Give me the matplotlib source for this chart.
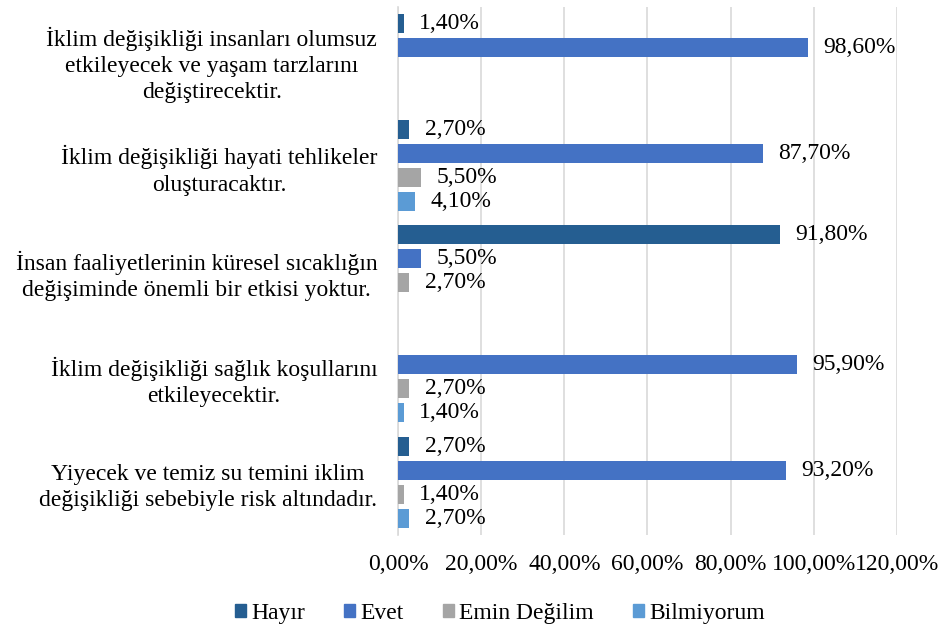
import matplotlib.pyplot as plt
from matplotlib.patches import Patch

# Data
categories = [
    'İklim değişikliği insanları olumsuz\netkileyecek ve yaşam tarzlarını\ndeğiştirecektir.',
    'İklim değişikliği hayati tehlikeler\noluşturacaktır.',
    'İnsan faaliyetlerinin küresel sıcaklığın\ndeğişiminde önemli bir etkisi yoktur.',
    'İklim değişikliği sağlık koşullarını\netkileyecektir.',
    'Yiyecek ve temiz su temini iklim\ndeğişikliği sebebiyle risk altındadır.',
]
series_names = ['Hayır', 'Evet', 'Emin Değilim', 'Bilmiyorum']
hayir = [1.4, 2.7, 91.8, None, 2.7]
evet = [98.6, 87.7, 5.5, 95.9, 93.2]
emin = [None, 5.5, 2.7, 2.7, 1.4]
bilmiyorum = [None, 4.1, None, 1.4, 2.7]
xticks = [0, 20, 40, 60, 80, 100, 120]

colors = ['#255E91', '#4472C4', '#A5A5A5', '#5B9BD5']
plt.rcParams['font.family'] = ['Liberation Serif', 'DejaVu Serif']
fs = 17


def fmt(v):
    return ('%.2f%%' % v).replace('.', ',')


fig = plt.figure(figsize=(9.4, 6.33), dpi=100)
ax = fig.add_axes([0.4234, 0.155, 0.5308, 0.834])

slot = 0.2275
height = 0.18
for j, vals in enumerate([hayir, evet, emin, bilmiyorum]):
    for i, v in enumerate(vals):
        if v is None:
            continue
        y = i + (j - 1.5) * slot
        ax.barh(y, v, height=height, color=colors[j], zorder=3)
        ax.annotate(fmt(v), (v, y), xytext=(11, 0), textcoords='offset points',
                    va='center', ha='left', fontsize=fs, color='black')

ax.set_xlim(0, 120)
ax.set_ylim(4.5, -0.5)
ax.set_xticks(xticks)
ax.set_xticklabels([fmt(t) for t in xticks], fontsize=fs)
ax.set_yticks(range(len(categories)))
ax.set_yticklabels(categories, fontsize=fs)
for lab in ax.get_yticklabels():
    lab.set_multialignment('center')
    lab.set_linespacing(1.32)
ax.tick_params(axis='both', length=0)
ax.tick_params(axis='y', pad=15)
ax.tick_params(axis='x', pad=14)
ax.grid(axis='x', color='#D9D9D9', linewidth=1.2, zorder=0)
for s in ['top', 'right', 'bottom']:
    ax.spines[s].set_visible(False)
ax.spines['left'].set_color('#D9D9D9')
ax.spines['left'].set_linewidth(1.2)

handles = [Patch(color=c) for c in colors]
fig.legend(handles, series_names, loc='center', bbox_to_anchor=(0.532, 0.031),
           ncol=4, frameon=False, fontsize=fs, handlelength=0.45, handleheight=0.45,
           handletextpad=0.25, columnspacing=1.65)

plt.savefig('out.png', dpi=100)
